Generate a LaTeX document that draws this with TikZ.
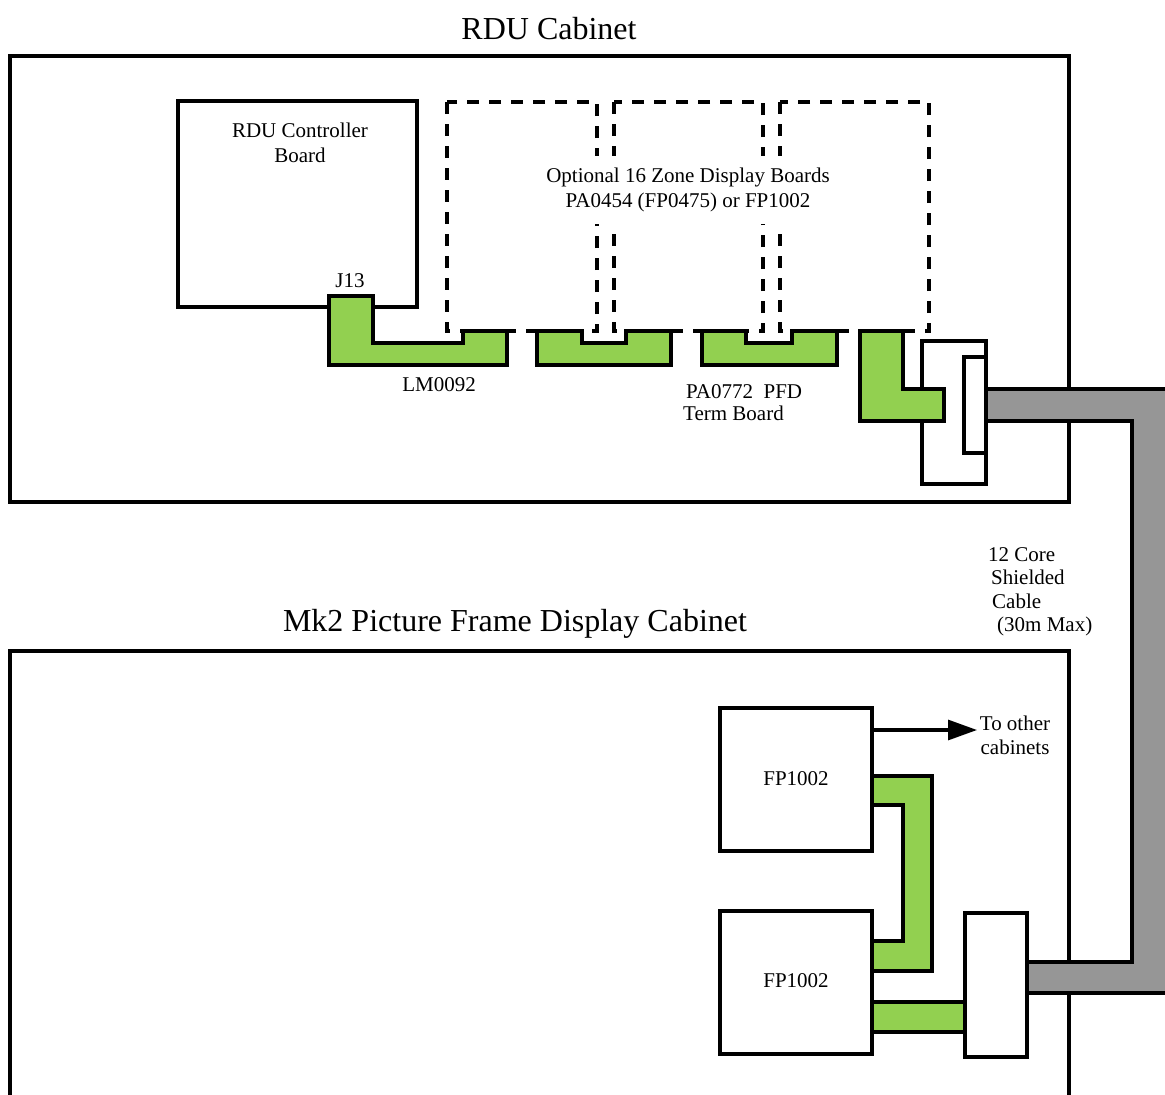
\documentclass[tikz,border=0pt]{standalone}
\usepackage{fontspec}
\setmainfont{Liberation Serif}
\usetikzlibrary{arrows.meta}
\definecolor{cgreen}{HTML}{92D050}
\definecolor{cgray}{HTML}{969696}
\begin{document}
\begin{tikzpicture}[x=1pt,y=-1pt,line join=miter,
  ln/.style={line width=3.1pt},
  dashbox/.style={line width=3.1pt,dash pattern=on 12pt off 10pt},
  greenpart/.style={ln,draw=black,fill=cgreen},
  graypart/.style={ln,draw=black,fill=cgray},
  txt/.style={font=\fontsize{21}{25}\selectfont,inner sep=0pt},
  bigtxt/.style={font=\fontsize{32}{38}\selectfont,inner sep=0pt},
  fpbox/.style={ln,draw,fill=white,minimum width=152pt,minimum height=143pt}]
\useasboundingbox (0,0) rectangle (1165,1095);
\clip (0,0) rectangle (1165,1095);
\fill[white] (0,0) rectangle (1165,1095);
% cabinets
\draw[ln] (10,56) rectangle (1069,502);
\draw[ln] (10,1110) -- (10,651) -- (1069,651) -- (1069,1110);
\node[bigtxt] (rdutitle) at (549,29) {RDU Cabinet};
\node[bigtxt] (mk2title) at (515,624) {Mk2 Picture Frame Display Cabinet};
% controller board
\draw[ln] (178,101) rectangle (417,307);
\node[txt,align=center] (ctrl) at (300,143) {RDU Controller\\Board};
\node[txt] (j13) at (350,281) {J13};
% optional boards
\draw[dashbox] (447,102) rectangle (597,331);
\draw[dashbox] (614,102) rectangle (763,331);
\draw[dashbox] (780,102) rectangle (929,331);
\node[txt,align=center,fill=white,inner xsep=4pt,inner ysep=12pt] (opt) at (688,190) {Optional 16 Zone Display Boards\\PA0454 (FP0475) or FP1002};
% connector block RDU
\draw[ln,fill=white] (922,341) rectangle (986,484);
\draw[ln,fill=white] (964,357) rectangle (986,453);
% green parts top
\draw[greenpart] (329,296) -- (373,296) -- (373,343) -- (463,343) -- (463,331) -- (507,331) -- (507,365) -- (329,365) -- cycle;
\draw[greenpart] (537,331) -- (582,331) -- (582,343) -- (626,343) -- (626,331) -- (671,331) -- (671,365) -- (537,365) -- cycle;
\draw[greenpart] (702,331) -- (746,331) -- (746,343) -- (792,343) -- (792,331) -- (837,331) -- (837,365) -- (702,365) -- cycle;
\draw[greenpart] (860,331) -- (903,331) -- (903,389) -- (944,389) -- (944,421) -- (860,421) -- cycle;
\node[txt] (lm) at (439,385) {LM0092};
\node[txt,align=left,anchor=west,font=\fontsize{21}{22}\selectfont] (pa) at (683,403) {\hspace*{3pt}PA0772\ \ PFD\\Term Board};
% Mk2 contents
\node[fpbox] (fp1) at (796,779.5) {};
\node[txt] (fp1t) at (796,779) {FP1002};
\node[fpbox] (fp2) at (796,982.5) {};
\node[txt] (fp2t) at (796,981) {FP1002};
\coordinate (arrs) at (872,730);
\coordinate (arre) at (977,730);
\draw[ln,-{Triangle[length=29pt,width=20pt]}] (arrs) -- (arre);
\node[txt,align=center,font=\fontsize{21}{24}\selectfont] (other) at (1015,735) {To other\\cabinets};
\draw[greenpart] (872,776) -- (932,776) -- (932,971) -- (872,971) -- (872,941) -- (903,941) -- (903,805) -- (872,805) -- cycle;
\draw[ln,fill=white] (965,913) rectangle (1027,1057);
\draw[greenpart] (872,1002) rectangle (965,1032);
% cable
\draw[graypart] (986,389) -- (1180,389) -- (1180,993) -- (1027,993) -- (1027,962) -- (1132,962) -- (1132,421) -- (986,421) -- cycle;
\node[txt,align=left,anchor=north west,font=\fontsize{21}{23.5}\selectfont] (cable) at (988,547) {12 Core\\\hspace*{3pt}Shielded\\\hspace*{4pt}Cable\\\hspace*{9pt}(30m Max)};
\end{tikzpicture}
\end{document}
